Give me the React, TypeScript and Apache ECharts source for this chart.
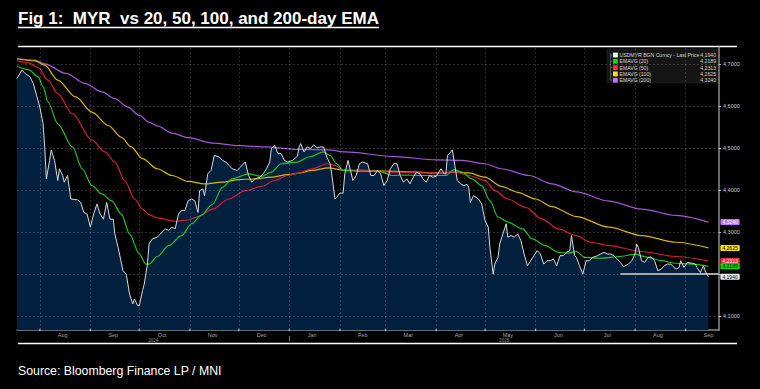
import React, { useEffect, useRef } from "react";
import * as echarts from "echarts";

// ---------- data ----------
const START_DATE = "2024-07-18"; // day 0 of the series
const AXIS_END_DAY = 430.5;
const Y_MIN = 4.067;
const Y_MAX = 4.741;

// [day offset from START_DATE, value]
const usdmyr: [number, number][] = [
  [0, 4.666], [3, 4.686], [5, 4.678], [8, 4.670], [10, 4.654], [12, 4.626], [14, 4.598], [16, 4.558], [17, 4.503], [18, 4.427],
  [20, 4.471], [21, 4.496], [23, 4.471], [25, 4.423], [26, 4.451], [28, 4.435], [29, 4.419], [31, 4.435], [32, 4.407], [33, 4.379],
  [37, 4.377], [39, 4.371], [41, 4.347], [43, 4.343], [45, 4.312], [47, 4.343], [49, 4.367], [51, 4.343], [53, 4.331], [55, 4.371],
  [57, 4.331], [59, 4.331], [60, 4.296], [62, 4.264], [65, 4.208], [67, 4.200], [69, 4.153], [71, 4.129], [72, 4.141], [74, 4.125],
  [75, 4.125], [77, 4.161], [78, 4.176], [80, 4.224], [81, 4.272], [83, 4.284], [86, 4.288], [87, 4.292], [89, 4.300], [91, 4.308],
  [93, 4.304], [95, 4.312], [97, 4.308], [99, 4.343], [101, 4.352], [103, 4.352], [105, 4.375], [107, 4.379], [109, 4.375], [111, 4.347],
  [112, 4.399], [114, 4.403], [115, 4.387], [117, 4.439], [119, 4.447], [121, 4.483], [124, 4.479], [126, 4.471], [128, 4.467], [130, 4.459],
  [132, 4.451], [135, 4.447], [137, 4.455], [140, 4.467], [142, 4.435], [144, 4.419], [146, 4.427], [149, 4.431], [151, 4.439], [153, 4.451],
  [155, 4.467], [156, 4.499], [158, 4.507], [160, 4.487], [162, 4.487], [164, 4.471], [166, 4.467], [169, 4.471], [172, 4.481], [173, 4.503],
  [174, 4.511], [176, 4.491], [178, 4.503], [180, 4.499], [182, 4.508], [184, 4.501], [186, 4.503], [188, 4.503], [190, 4.479], [192, 4.463],
  [193, 4.439], [195, 4.379], [196, 4.383], [198, 4.393], [200, 4.393], [201, 4.439], [203, 4.471], [204, 4.455], [206, 4.423], [208, 4.435],
  [210, 4.463], [212, 4.467], [215, 4.463], [217, 4.435], [219, 4.435], [221, 4.447], [223, 4.439], [225, 4.411], [227, 4.423], [229, 4.451],
  [231, 4.463], [233, 4.463], [235, 4.435], [237, 4.419], [239, 4.427], [241, 4.415], [243, 4.431], [245, 4.443], [247, 4.439], [249, 4.427],
  [251, 4.419], [253, 4.435], [255, 4.431], [257, 4.433], [260, 4.451], [262, 4.439], [263, 4.439], [264, 4.483], [266, 4.491], [267, 4.496],
  [268, 4.471], [270, 4.423], [272, 4.415], [274, 4.411], [276, 4.414], [277, 4.407], [278, 4.371], [280, 4.387], [283, 4.379], [285, 4.367],
  [287, 4.328], [289, 4.312], [290, 4.264], [292, 4.200], [293, 4.224], [295, 4.240], [296, 4.272], [298, 4.296], [300, 4.320], [301, 4.288],
  [303, 4.292], [305, 4.288], [307, 4.296], [309, 4.280], [311, 4.248], [313, 4.220], [315, 4.232], [317, 4.244], [319, 4.256], [321, 4.248],
  [323, 4.224], [325, 4.232], [327, 4.232], [329, 4.236], [331, 4.220], [333, 4.244], [335, 4.244], [337, 4.252], [339, 4.256], [340, 4.292],
  [342, 4.244], [343, 4.240], [345, 4.220], [347, 4.200], [349, 4.232], [351, 4.232], [353, 4.240], [356, 4.244], [358, 4.248], [360, 4.252],
  [362, 4.248], [364, 4.248], [366, 4.244], [368, 4.236], [370, 4.228], [372, 4.218], [375, 4.224], [377, 4.232], [379, 4.248], [380, 4.272],
  [381, 4.264], [383, 4.232], [385, 4.228], [387, 4.240], [389, 4.241], [391, 4.232], [393, 4.208], [395, 4.212], [397, 4.220], [399, 4.224],
  [401, 4.224], [404, 4.212], [406, 4.216], [407, 4.232], [409, 4.216], [411, 4.228], [414, 4.226], [416, 4.224], [417, 4.216], [419, 4.204],
  [421, 4.220], [422, 4.208], [424, 4.194],
];

const ema20: [number, number][] = [
  [0, 4.695], [7, 4.687], [13, 4.670], [16, 4.646], [19, 4.610], [25, 4.558], [34, 4.503], [40, 4.451], [46, 4.411], [52, 4.391],
  [58, 4.375], [64, 4.343], [69, 4.296], [75, 4.248], [79, 4.224], [81, 4.224], [86, 4.242], [93, 4.268], [101, 4.292], [107, 4.320],
  [113, 4.340], [120, 4.367], [126, 4.407], [132, 4.427], [142, 4.439], [150, 4.433], [156, 4.443], [162, 4.463], [172, 4.467], [179, 4.479],
  [188, 4.491], [192, 4.483], [196, 4.463], [200, 4.447], [211, 4.445], [222, 4.445], [230, 4.435], [238, 4.436], [248, 4.435], [257, 4.435],
  [263, 4.435], [268, 4.449], [273, 4.443], [279, 4.427], [285, 4.411], [290, 4.375], [295, 4.336], [301, 4.324], [310, 4.308], [316, 4.284],
  [324, 4.268], [332, 4.252], [338, 4.250], [343, 4.254], [348, 4.240], [359, 4.238], [369, 4.242], [379, 4.247], [387, 4.240], [395, 4.232],
  [404, 4.226], [414, 4.224], [424, 4.2189],
];

const ema50: [number, number][] = [
  [0, 4.708], [7, 4.703], [13, 4.692], [19, 4.662], [25, 4.630], [34, 4.582], [46, 4.519], [54, 4.491], [60, 4.467], [66, 4.423],
  [72, 4.379], [77, 4.355], [81, 4.342], [86, 4.334], [97, 4.326], [105, 4.329], [111, 4.337], [120, 4.355], [130, 4.379], [140, 4.399],
  [150, 4.409], [158, 4.423], [166, 4.435], [172, 4.440], [181, 4.451], [190, 4.463], [195, 4.459], [200, 4.447], [211, 4.447], [232, 4.443],
  [257, 4.441], [269, 4.443], [277, 4.435], [287, 4.423], [293, 4.399], [301, 4.379], [312, 4.359], [322, 4.331], [332, 4.308], [343, 4.292],
  [352, 4.276], [363, 4.268], [383, 4.254], [404, 4.242], [424, 4.2313],
];

const ema100: [number, number][] = [
  [0, 4.713], [11, 4.708], [17, 4.698], [25, 4.662], [36, 4.622], [46, 4.586], [56, 4.554], [64, 4.526], [70, 4.503], [77, 4.475],
  [86, 4.451], [95, 4.435], [105, 4.421], [115, 4.415], [126, 4.419], [136, 4.425], [146, 4.427], [156, 4.431], [166, 4.437], [172, 4.440],
  [181, 4.447], [191, 4.453], [201, 4.447], [211, 4.447], [232, 4.445], [257, 4.441], [269, 4.443], [277, 4.441], [287, 4.431], [297, 4.409],
  [307, 4.395], [318, 4.379], [328, 4.361], [343, 4.337], [363, 4.312], [383, 4.292], [404, 4.276], [424, 4.2625],
];

const ema200: [number, number][] = [
  [0, 4.713], [11, 4.710], [17, 4.701], [30, 4.678], [42, 4.654], [52, 4.634], [60, 4.618], [68, 4.598], [75, 4.578], [81, 4.562],
  [86, 4.553], [95, 4.536], [105, 4.525], [120, 4.512], [136, 4.506], [152, 4.503], [172, 4.497], [191, 4.496], [201, 4.491], [232, 4.480],
  [257, 4.472], [273, 4.471], [287, 4.463], [297, 4.451], [314, 4.435], [328, 4.415], [343, 4.396], [363, 4.374], [383, 4.355], [404, 4.340],
  [424, 4.324],
];

const seriesNames = ["USDMYR BGN Curncy - Last Price", "EMAVG (20)", "EMAVG (50)", "EMAVG (100)", "EMAVG (200)"];
const lineColors = ["#d9d9d9", "#1fc41f", "#d41c3a", "#d9b800", "#a456d6"];
const legendColors = ["#ffffff", "#00e000", "#ff2a3a", "#ffe000", "#c070ff"];
const tagTextColors = ["#000000", "#000000", "#ffffff", "#000000", "#ffffff"];

const monthStarts = [
  "2024-08-01", "2024-09-01", "2024-10-01", "2024-11-01", "2024-12-01", "2025-01-01", "2025-02-01",
  "2025-03-01", "2025-04-01", "2025-05-01", "2025-06-01", "2025-07-01", "2025-08-01", "2025-09-01",
];
const monthMids = [
  "2024-08-15", "2024-09-15", "2024-10-15", "2024-11-15", "2024-12-15", "2025-01-15", "2025-02-15",
  "2025-03-15", "2025-04-15", "2025-05-15", "2025-06-15", "2025-07-15", "2025-08-15", "2025-09-15",
];
const monthNames = ["Aug", "Sep", "Oct", "Nov", "Dec", "Jan", "Feb", "Mar", "Apr", "May", "Jun", "Jul", "Aug", "Sep"];
const yearNames = ["2024", "2025"];
const YEAR_BREAK = "2025-01-01";

const yGridValues = [4.1, 4.2, 4.3, 4.4, 4.5, 4.6, 4.7];
const yLabelValues = [4.1, 4.3, 4.4, 4.5, 4.6, 4.7];

const REF_LEVEL = 4.2;
const REF_FROM_DAY = 370;

const TITLE = "Fig 1:  MYR  vs 20, 50, 100, and 200-day EMA";
const SOURCE = "Source: Bloomberg Finance LP / MNI";

// ---------- helpers ----------
const DAY = 86400000;
const FONT = "Liberation Sans";
const fmt = (v: number) => v.toFixed(4).replace(".", ",");

function measure(text: string, font: string): number {
  const c = document.createElement("canvas").getContext("2d");
  if (!c) return text.length * 7;
  c.font = font;
  return c.measureText(text).width;
}

export default function App() {
  const ref = useRef<HTMLDivElement>(null);

  useEffect(() => {
    document.body.style.margin = "0";
    document.body.style.background = "#000";
    if (!ref.current) return;
    const chart = echarts.init(ref.current, null, { renderer: "svg" });

    const t0 = Date.parse(START_DATE);
    const toPts = (arr: [number, number][]) => arr.map(([d, v]) => [t0 + d * DAY, v]);
    const xMin = t0;
    const xMax = t0 + AXIS_END_DAY * DAY;
    const yearBreak = Date.parse(YEAR_BREAK);
    const yearMids = [(xMin + yearBreak) / 2, (yearBreak + xMax) / 2];

    const allData = [usdmyr, ema20, ema50, ema100, ema200];
    const lastValues = allData.map((a) => a[a.length - 1][1]);

    // text sizing
    const titleW15 = measure(TITLE, `bold 15px "${FONT}"`);
    const titleSize = Math.max(12, Math.min(17, (15 * 374) / titleW15));
    const titleW = (titleW15 * titleSize) / 15;
    const srcW12 = measure(SOURCE, `12px "${FONT}"`);
    const srcSize = Math.max(10, Math.min(14, (12 * 204) / srcW12));
    const lgW10 = measure(seriesNames[0], `10px "${FONT}"`);
    const lgSize = Math.min(5.2, (10 * 80) / lgW10);

    const tagLabel = (i: number) => ({
      show: true,
      formatter: (p: any) => fmt(p.value[1]),
      backgroundColor: i === 0 ? "#eeeeee" : legendColors[i],
      color: tagTextColors[i],
      fontSize: 5,
      fontFamily: FONT,
      padding: [1, 2, 0, 2],
      distance: 12,
      borderRadius: 1,
    });

    const emaSeries = (i: number, data: [number, number][]) => ({
      type: "line",
      name: seriesNames[i],
      data: toPts(data),
      showSymbol: false,
      symbol: "none",
      smooth: 0.3,
      smoothMonotone: "x",
      z: 4,
      silent: true,
      lineStyle: { color: lineColors[i], width: 1.2 },
      itemStyle: { color: lineColors[i] },
      endLabel: tagLabel(i),
    });

    // legend graphic
    const lgX = 607, lgY = 49, lgW = 111, lgH = 34, rowH = 6.3, row0 = 55;
    const legendEls: any[] = [
      { type: "rect", shape: { x: lgX, y: lgY, width: lgW, height: lgH }, style: { fill: "#151515", stroke: "#262626", lineWidth: 0.6 } },
      { type: "line", shape: { x1: 610.5, y1: row0 - 2, x2: 610.5, y2: row0 + 4 * rowH }, style: { stroke: "#777", lineWidth: 0.6 } },
    ];
    seriesNames.forEach((n, i) => {
      const cy = row0 + i * rowH;
      legendEls.push(
        { type: "line", shape: { x1: 610.5, y1: cy, x2: 612.5, y2: cy }, style: { stroke: "#777", lineWidth: 0.6 } },
        { type: "rect", shape: { x: 613, y: cy - 2.4, width: 4.8, height: 4.8 }, style: { fill: legendColors[i] } },
        { type: "text", x: 619.5, y: cy, style: { text: n, fontSize: lgSize, fontFamily: FONT, fill: "#d6d6d6", verticalAlign: "middle", align: "left" } },
        { type: "text", x: 716, y: cy, style: { text: fmt(lastValues[i]), fontSize: lgSize, fontFamily: FONT, fill: "#d6d6d6", verticalAlign: "middle", align: "right" } },
      );
    });

    const option: any = {
      animation: false,
      backgroundColor: "#000",
      grid: { left: 17, right: 41, top: 47, bottom: 59, containLabel: false },
      xAxis: {
        type: "time",
        min: xMin,
        max: xMax,
        axisLine: { show: true, onZero: false, lineStyle: { color: "#8c8c8c", width: 1.5 } },
        axisTick: { show: false },
        axisLabel: { show: false },
        splitLine: { show: false },
      },
      yAxis: {
        type: "value",
        position: "right",
        min: Y_MIN,
        max: Y_MAX,
        axisLine: { show: true, lineStyle: { color: "#8c8c8c", width: 1.5 } },
        axisTick: { show: true, customValues: yGridValues, length: 2, lineStyle: { color: "#bbbbbb" } },
        axisLabel: { show: true, customValues: yLabelValues, formatter: (v: number) => fmt(v), fontSize: 5.5, color: "#cfcfcf", margin: 4, fontFamily: FONT },
        splitLine: { show: false },
      },
      series: [
        {
          type: "line",
          name: "area",
          data: toPts(usdmyr),
          showSymbol: false,
          symbol: "none",
          z: 1,
          silent: true,
          lineStyle: { width: 0 },
          areaStyle: { color: "#03203f", opacity: 1, origin: "start" },
        },
        {
          type: "line",
          name: "grid",
          data: [[xMin, Y_MIN]],
          symbol: "none",
          z: 2,
          silent: true,
          lineStyle: { opacity: 0 },
          markLine: {
            silent: true,
            symbol: ["none", "none"],
            label: { show: false },
            animation: false,
            lineStyle: { color: "rgba(255,255,255,0.17)", type: [2, 2], width: 1 },
            data: [
              ...monthStarts.map((d) => ({ xAxis: Date.parse(d) })),
              ...yGridValues.map((v) => ({ yAxis: v })),
            ],
          },
        },
        emaSeries(4, ema200),
        emaSeries(3, ema100),
        emaSeries(2, ema50),
        emaSeries(1, ema20),
        {
          type: "line",
          name: seriesNames[0],
          data: toPts(usdmyr),
          showSymbol: false,
          symbol: "none",
          z: 5,
          silent: true,
          lineStyle: { color: lineColors[0], width: 1 },
          itemStyle: { color: lineColors[0] },
          endLabel: tagLabel(0),
          markLine: {
            silent: true,
            symbol: ["none", "none"],
            label: { show: false },
            animation: false,
            lineStyle: { color: "#a8a8a8", width: 2, type: "solid" },
            data: [[{ coord: [t0 + REF_FROM_DAY * DAY, REF_LEVEL] }, { coord: [xMax, REF_LEVEL] }]],
          },
        },
        {
          type: "scatter",
          name: "months",
          data: monthMids.map((d, i) => ({ value: [Date.parse(d), Y_MIN], label: { formatter: monthNames[i] } })),
          symbolSize: 1,
          itemStyle: { color: "rgba(0,0,0,0)" },
          label: { show: true, position: "bottom", distance: 1.5, fontSize: 5.5, color: "#cfcfcf", fontFamily: FONT },
          silent: true,
          clip: false,
          z: 6,
        },
        {
          type: "scatter",
          name: "years",
          data: yearMids.map((t, i) => ({ value: [t, Y_MIN], label: { formatter: yearNames[i] } })),
          symbolSize: 1,
          itemStyle: { color: "rgba(0,0,0,0)" },
          label: { show: true, position: "bottom", distance: 7, fontSize: 4.5, color: "#b8b8b8", fontFamily: FONT },
          silent: true,
          clip: false,
          z: 6,
        },
        {
          type: "scatter",
          name: "yearTick",
          data: [[yearBreak, Y_MIN]],
          symbol: "rect",
          symbolSize: [0.8, 5],
          symbolOffset: [0, 8.5],
          itemStyle: { color: "#c8c8c8" },
          silent: true,
          clip: false,
          z: 6,
        },
        {
          type: "scatter",
          name: "monthTicks",
          data: monthStarts.map((d) => [Date.parse(d), Y_MIN]),
          symbol: "rect",
          symbolSize: [1.2, 2.5],
          itemStyle: { color: "#d0d0d0" },
          silent: true,
          clip: false,
          z: 6,
        },
      ],
      graphic: [
        {
          type: "text",
          x: 18,
          y: 18.5,
          style: { text: TITLE, fontSize: titleSize, fontWeight: "bold", fontFamily: FONT, fill: "#ffffff", verticalAlign: "middle", align: "left" },
        },
        { type: "line", shape: { x1: 18, y1: 27.5, x2: 18 + titleW, y2: 27.5 }, style: { stroke: "#ffffff", lineWidth: 1.3 } },
        { type: "line", shape: { x1: 18, y1: 46.5, x2: 737, y2: 46.5 }, style: { stroke: "#ffffff", lineWidth: 1.5 } },
        { type: "line", shape: { x1: 18, y1: 343.5, x2: 737, y2: 343.5 }, style: { stroke: "#ffffff", lineWidth: 1.5 } },
        {
          type: "text",
          x: 18,
          y: 371,
          style: { text: SOURCE, fontSize: srcSize, fontFamily: FONT, fill: "#ffffff", verticalAlign: "middle", align: "left" },
        },
        ...legendEls,
      ],
    };

    chart.setOption(option);
    return () => chart.dispose();
  }, []);

  return <div ref={ref} style={{ width: 760, height: 389, background: "#000" }} />;
}
